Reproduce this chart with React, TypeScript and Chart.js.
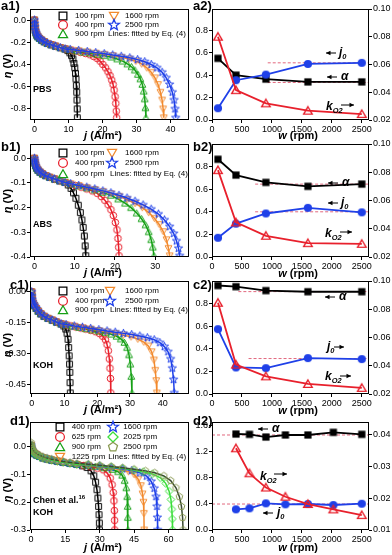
import React, { useEffect, useRef } from 'react';
import { Chart, registerables } from 'chart.js';

Chart.register(...registerables);

const FONT = 'Arial, "Liberation Sans", Helvetica, sans-serif';

// ---------------- tick values ----------------
const X_TICKS_A1 = [0, 10, 20, 30, 40];
const X_TICKS_B1 = [0, 10, 20, 30];
const X_TICKS_C1 = [0, 10, 20, 30, 40];
const X_TICKS_D1 = [0, 15, 30, 45, 60];
const Y_TICKS_A1 = [-0.8, -0.6, -0.4, -0.2, 0.0];
const Y_TICKS_B1 = [-0.4, -0.3, -0.2, -0.1, 0.0];
const Y_TICKS_C1 = [-0.45, -0.3, -0.15, 0.0];
const Y_TICKS_D1 = [-0.3, -0.2, -0.1, 0.0];
const W_TICKS = [0, 500, 1000, 1500, 2000, 2500];
const LEFT_TICKS_ABC2 = [0, 0.2, 0.4, 0.6, 0.8];
const RIGHT_TICKS_ABC2 = [0.02, 0.04, 0.06, 0.08, 0.1];
const LEFT_TICKS_D2 = [0, 0.4, 0.8, 1.2, 1.6];
const RIGHT_TICKS_D2 = [0.01, 0.02, 0.03, 0.04];

// ---------------- a1: PBS ----------------
const A1_100_J = [0, 0.05, 0.12, 0.25, 0.45, 0.7, 1.0, 1.5, 2.1, 2.9, 3.8, 4.9, 6.2, 7.6, 9.0, 9.8, 10.4, 10.9, 11.3, 11.6, 11.85, 12.05, 12.2, 12.32, 12.42, 12.5, 12.56, 12.6];
const A1_100_E = [0, -0.03, -0.06, -0.09, -0.115, -0.135, -0.15, -0.165, -0.18, -0.195, -0.21, -0.222, -0.235, -0.248, -0.26, -0.275, -0.295, -0.32, -0.35, -0.39, -0.43, -0.48, -0.53, -0.59, -0.65, -0.72, -0.8, -0.88];
const A1_400_J = [0, 0.05, 0.12, 0.25, 0.45, 0.7, 1.0, 1.5, 2.1, 2.9, 3.8, 4.9, 6.2, 7.6, 9.0, 10.5, 12, 13.5, 15, 16.3, 17.4, 18.4, 19.3, 20.1, 20.9, 21.6, 22.2, 22.7, 23.1, 23.4, 23.7, 23.9, 24.05, 24.15];
const A1_400_E = [0, -0.03, -0.06, -0.09, -0.115, -0.135, -0.15, -0.165, -0.18, -0.195, -0.21, -0.222, -0.235, -0.248, -0.26, -0.27, -0.28, -0.29, -0.3, -0.312, -0.327, -0.345, -0.37, -0.4, -0.43, -0.465, -0.5, -0.54, -0.58, -0.63, -0.69, -0.75, -0.82, -0.88];
const A1_900_J = [0, 0.05, 0.12, 0.25, 0.45, 0.7, 1.0, 1.5, 2.1, 2.9, 3.8, 4.9, 6.2, 7.6, 9.0, 10.5, 12.5, 14.5, 16.5, 18.5, 20.5, 22.5, 24.3, 25.9, 27.3, 28.5, 29.5, 30.4, 31.1, 31.7, 32.1, 32.4, 32.6, 32.75];
const A1_900_E = [0, -0.03, -0.06, -0.09, -0.115, -0.135, -0.15, -0.165, -0.18, -0.195, -0.21, -0.222, -0.235, -0.248, -0.26, -0.268, -0.278, -0.288, -0.298, -0.308, -0.32, -0.333, -0.35, -0.37, -0.395, -0.42, -0.45, -0.49, -0.53, -0.58, -0.64, -0.71, -0.79, -0.88];
const A1_1600_J = [0, 0.05, 0.12, 0.25, 0.45, 0.7, 1.0, 1.5, 2.1, 2.9, 3.8, 4.9, 6.2, 7.6, 9.0, 10.5, 13, 15.5, 18, 20.5, 23, 25.5, 27.8, 29.8, 31.5, 33, 34.3, 35.4, 36.3, 37, 37.5, 37.8, 38];
const A1_1600_E = [0, -0.03, -0.06, -0.09, -0.115, -0.135, -0.15, -0.165, -0.18, -0.195, -0.21, -0.222, -0.235, -0.248, -0.26, -0.266, -0.276, -0.286, -0.297, -0.308, -0.32, -0.335, -0.35, -0.37, -0.395, -0.43, -0.47, -0.52, -0.58, -0.65, -0.72, -0.8, -0.88];
const A1_2500_J = [0, 0.05, 0.12, 0.25, 0.45, 0.7, 1.0, 1.5, 2.1, 2.9, 3.8, 4.9, 6.2, 7.6, 9.0, 10.5, 13, 15.5, 18, 20.5, 23, 25.5, 28, 30.3, 32.4, 34.3, 36, 37.5, 38.7, 39.7, 40.5, 41, 41.3, 41.5];
const A1_2500_E = [0, -0.03, -0.06, -0.09, -0.115, -0.135, -0.15, -0.165, -0.18, -0.195, -0.21, -0.222, -0.235, -0.248, -0.26, -0.264, -0.273, -0.283, -0.293, -0.303, -0.314, -0.326, -0.34, -0.356, -0.375, -0.4, -0.43, -0.47, -0.52, -0.58, -0.65, -0.72, -0.8, -0.88];

// ---------------- b1: ABS ----------------
const B1_100_J = [0, 0.05, 0.15, 0.3, 0.55, 0.9, 1.4, 2.0, 2.8, 3.8, 5.0, 6.3, 7.6, 8.4, 9.1, 9.7, 10.3, 10.9, 11.4, 11.8, 12.1, 12.4, 12.6, 12.75];
const B1_100_E = [0, -0.01, -0.02, -0.03, -0.04, -0.048, -0.056, -0.063, -0.07, -0.077, -0.084, -0.091, -0.098, -0.108, -0.122, -0.14, -0.162, -0.19, -0.22, -0.25, -0.28, -0.315, -0.355, -0.395];
const B1_400_J = [0, 0.05, 0.15, 0.3, 0.55, 0.9, 1.4, 2.0, 2.8, 3.8, 5.0, 6.3, 7.6, 8.8, 10.2, 11.6, 13, 14.4, 15.6, 16.6, 17.5, 18.3, 19, 19.6, 20.1, 20.5, 20.75, 20.92, 21.02];
const B1_400_E = [0, -0.01, -0.02, -0.03, -0.04, -0.048, -0.056, -0.063, -0.07, -0.077, -0.084, -0.091, -0.098, -0.104, -0.11, -0.117, -0.124, -0.132, -0.142, -0.155, -0.17, -0.188, -0.208, -0.232, -0.26, -0.29, -0.325, -0.36, -0.395];
const B1_900_J = [0, 0.05, 0.15, 0.3, 0.55, 0.9, 1.4, 2.0, 2.8, 3.8, 5.0, 6.3, 7.6, 9, 11, 13, 15, 17, 19, 20.8, 22.5, 24, 25.4, 26.6, 27.6, 28.4, 29, 29.4, 29.7];
const B1_900_E = [0, -0.01, -0.02, -0.03, -0.04, -0.048, -0.056, -0.063, -0.07, -0.077, -0.084, -0.091, -0.098, -0.104, -0.112, -0.12, -0.128, -0.138, -0.15, -0.165, -0.182, -0.2, -0.222, -0.245, -0.27, -0.298, -0.33, -0.36, -0.395];
const B1_1600_J = [0, 0.05, 0.15, 0.3, 0.55, 0.9, 1.4, 2.0, 2.8, 3.8, 5.0, 6.3, 7.6, 9, 11, 13, 15, 17, 19, 21, 23, 25, 26.8, 28.4, 29.8, 31, 32, 32.8, 33.3, 33.6];
const B1_1600_E = [0, -0.01, -0.02, -0.03, -0.04, -0.048, -0.056, -0.063, -0.07, -0.077, -0.084, -0.091, -0.098, -0.103, -0.11, -0.118, -0.126, -0.134, -0.143, -0.154, -0.167, -0.183, -0.2, -0.22, -0.243, -0.268, -0.297, -0.33, -0.365, -0.395];
const B1_2500_J = [0, 0.05, 0.15, 0.3, 0.55, 0.9, 1.4, 2.0, 2.8, 3.8, 5.0, 6.3, 7.6, 9, 11, 13, 15, 17, 19, 21, 23, 25, 27, 29, 30.8, 32.3, 33.6, 34.6, 35.3, 35.8, 36.1];
const B1_2500_E = [0, -0.01, -0.02, -0.03, -0.04, -0.048, -0.056, -0.063, -0.07, -0.077, -0.084, -0.091, -0.098, -0.103, -0.11, -0.117, -0.124, -0.132, -0.14, -0.15, -0.161, -0.174, -0.189, -0.206, -0.226, -0.25, -0.277, -0.305, -0.335, -0.365, -0.395];

// ---------------- c1: KOH ----------------
const C1_100_J = [0, 0.05, 0.15, 0.3, 0.55, 0.9, 1.4, 2.0, 2.8, 3.8, 5.0, 6.3, 7.6, 9.0, 9.8, 10.4, 10.8, 11.1, 11.3, 11.45, 11.55, 11.65, 11.72, 11.78];
const C1_100_E = [0, -0.02, -0.035, -0.048, -0.058, -0.067, -0.08, -0.093, -0.106, -0.118, -0.128, -0.137, -0.146, -0.155, -0.165, -0.18, -0.2, -0.23, -0.27, -0.31, -0.35, -0.39, -0.44, -0.49];
const C1_400_J = [0, 0.05, 0.15, 0.3, 0.55, 0.9, 1.4, 2.0, 2.8, 3.8, 5.0, 6.3, 7.6, 9.0, 10.5, 12, 13.5, 15, 16.5, 18, 19.5, 20.7, 21.7, 22.5, 23, 23.4, 23.7, 23.9, 24.05, 24.15];
const C1_400_E = [0, -0.02, -0.035, -0.048, -0.058, -0.067, -0.08, -0.093, -0.106, -0.118, -0.128, -0.137, -0.146, -0.155, -0.16, -0.165, -0.17, -0.175, -0.18, -0.186, -0.193, -0.202, -0.215, -0.232, -0.255, -0.285, -0.325, -0.37, -0.42, -0.49];
const C1_900_J = [0, 0.05, 0.15, 0.3, 0.55, 0.9, 1.4, 2.0, 2.8, 3.8, 5.0, 6.3, 7.6, 9.0, 10.5, 12.5, 14.5, 16.5, 18.5, 20.5, 22.5, 24.3, 25.9, 27.2, 28.3, 29.1, 29.7, 30.1, 30.4, 30.6];
const C1_900_E = [0, -0.02, -0.035, -0.048, -0.058, -0.067, -0.08, -0.093, -0.106, -0.118, -0.128, -0.137, -0.146, -0.155, -0.16, -0.166, -0.172, -0.178, -0.184, -0.19, -0.197, -0.205, -0.215, -0.228, -0.245, -0.27, -0.305, -0.35, -0.41, -0.49];
const C1_1600_J = [0, 0.05, 0.15, 0.3, 0.55, 0.9, 1.4, 2.0, 2.8, 3.8, 5.0, 6.3, 7.6, 9.0, 10.5, 13, 15.5, 18, 20.5, 23, 25.5, 28, 30.3, 32.4, 34.2, 35.6, 36.6, 37.3, 37.7, 38, 38.2];
const C1_1600_E = [0, -0.02, -0.035, -0.048, -0.058, -0.067, -0.08, -0.093, -0.106, -0.118, -0.128, -0.137, -0.146, -0.155, -0.159, -0.166, -0.173, -0.18, -0.187, -0.194, -0.201, -0.209, -0.218, -0.229, -0.243, -0.262, -0.29, -0.33, -0.38, -0.43, -0.49];
const C1_2500_J = [0, 0.05, 0.15, 0.3, 0.55, 0.9, 1.4, 2.0, 2.8, 3.8, 5.0, 6.3, 7.6, 9.0, 10.5, 13, 15.5, 18, 20.5, 23, 25.5, 28, 30.5, 33, 35.3, 37.4, 39.1, 40.5, 41.6, 42.4, 42.9, 43.3, 43.5];
const C1_2500_E = [0, -0.02, -0.035, -0.048, -0.058, -0.067, -0.08, -0.093, -0.106, -0.118, -0.128, -0.137, -0.146, -0.155, -0.158, -0.165, -0.171, -0.177, -0.183, -0.189, -0.195, -0.201, -0.207, -0.214, -0.222, -0.232, -0.246, -0.265, -0.29, -0.325, -0.37, -0.425, -0.49];

// ---------------- d1: Chen et al. KOH ----------------
const D1_400_J = [0, 0.1, 0.3, 0.6, 1.0, 1.6, 2.5, 3.7, 5.2, 7, 9, 11.5, 14, 17, 20, 22.5, 24.5, 26.2, 27.4, 28.2, 28.8, 29.2, 29.5, 29.7, 29.85, 29.9];
const D1_400_E = [0.005, -0.003, -0.01, -0.015, -0.02, -0.025, -0.03, -0.035, -0.04, -0.044, -0.048, -0.052, -0.056, -0.06, -0.064, -0.069, -0.075, -0.087, -0.105, -0.128, -0.155, -0.185, -0.215, -0.245, -0.275, -0.3];
const D1_625_J = [0, 0.1, 0.3, 0.6, 1.0, 1.6, 2.5, 3.7, 5.2, 7, 9, 11.5, 14, 17, 20, 23, 26, 29, 31.5, 33.3, 34.6, 35.4, 35.9, 36.2, 36.4, 36.5, 36.55];
const D1_625_E = [0.005, -0.003, -0.01, -0.015, -0.02, -0.025, -0.03, -0.035, -0.04, -0.044, -0.048, -0.052, -0.056, -0.06, -0.064, -0.068, -0.072, -0.077, -0.083, -0.095, -0.113, -0.137, -0.165, -0.195, -0.23, -0.265, -0.3];
const D1_900_J = [0, 0.1, 0.3, 0.6, 1.0, 1.6, 2.5, 3.7, 5.2, 7, 9, 11.5, 14, 17, 20, 24, 28, 32, 35.5, 38, 39.8, 40.9, 41.6, 42, 42.2, 42.3, 42.35];
const D1_900_E = [0.005, -0.003, -0.01, -0.015, -0.02, -0.025, -0.03, -0.035, -0.04, -0.044, -0.048, -0.052, -0.056, -0.06, -0.064, -0.067, -0.071, -0.076, -0.082, -0.09, -0.103, -0.122, -0.148, -0.18, -0.215, -0.255, -0.3];
const D1_1225_J = [0, 0.1, 0.3, 0.6, 1.0, 1.6, 2.5, 3.7, 5.2, 7, 9, 11.5, 14, 17, 20, 25, 30, 35, 39, 42.5, 45, 46.8, 48, 48.7, 49.1, 49.3, 49.4];
const D1_1225_E = [0.005, -0.003, -0.01, -0.015, -0.02, -0.025, -0.03, -0.035, -0.04, -0.044, -0.048, -0.052, -0.056, -0.06, -0.064, -0.067, -0.072, -0.077, -0.083, -0.09, -0.1, -0.117, -0.14, -0.17, -0.2, -0.24, -0.3];
const D1_1600_J = [0, 0.1, 0.3, 0.6, 1.0, 1.6, 2.5, 3.7, 5.2, 7, 9, 11.5, 14, 17, 20, 25, 30, 35, 40, 44, 47.5, 50.5, 52.5, 53.8, 54.6, 55, 55.2, 55.3];
const D1_1600_E = [0.005, -0.003, -0.01, -0.015, -0.02, -0.025, -0.03, -0.035, -0.04, -0.044, -0.048, -0.052, -0.056, -0.06, -0.064, -0.066, -0.07, -0.075, -0.08, -0.086, -0.094, -0.106, -0.125, -0.15, -0.18, -0.215, -0.255, -0.3];
const D1_2025_J = [0, 0.1, 0.3, 0.6, 1.0, 1.6, 2.5, 3.7, 5.2, 7, 9, 11.5, 14, 17, 20, 25, 30, 35, 40, 45, 49, 53, 56.5, 58.8, 60.3, 61.1, 61.5, 61.7, 61.8];
const D1_2025_E = [0.005, -0.003, -0.01, -0.015, -0.02, -0.025, -0.03, -0.035, -0.04, -0.044, -0.048, -0.052, -0.056, -0.06, -0.064, -0.065, -0.069, -0.073, -0.078, -0.084, -0.09, -0.098, -0.112, -0.132, -0.16, -0.19, -0.225, -0.26, -0.3];
const D1_2500_J = [0, 0.1, 0.3, 0.6, 1.0, 1.6, 2.5, 3.7, 5.2, 7, 9, 11.5, 14, 17, 20, 25, 30, 35, 40, 45, 50, 54, 58, 61, 63.3, 64.8, 65.7, 66.2, 66.4];
const D1_2500_E = [0.015, 0.008, 0, -0.008, -0.014, -0.02, -0.026, -0.031, -0.036, -0.041, -0.045, -0.049, -0.053, -0.057, -0.06, -0.063, -0.067, -0.071, -0.076, -0.081, -0.087, -0.094, -0.105, -0.122, -0.148, -0.18, -0.215, -0.255, -0.3];

// ---------------- right panels: fitted parameters ----------------
const W_ABC = [100, 400, 900, 1600, 2500];
const A2_ALPHA = [0.55, 0.4, 0.365, 0.34, 0.34];
const A2_J0 = [0.105, 0.355, 0.405, 0.5, 0.51];
const A2_KO2 = [0.08, 0.0415, 0.032, 0.0267, 0.0243];
const A2_REF_LEVELS = [0.51, 0.335];
const A2_REF_FROM = 930;

const B2_ALPHA = [0.865, 0.725, 0.66, 0.625, 0.645];
const B2_J0 = [0.17, 0.295, 0.385, 0.435, 0.395];
const B2_KO2 = [0.0815, 0.0445, 0.035, 0.0298, 0.0293];
const B2_REF_LEVELS = [0.645, 0.4];
const B2_REF_FROM = 720;

const C2_ALPHA = [0.96, 0.95, 0.915, 0.905, 0.905];
const C2_J0 = [0.0659, 0.0388, 0.0383, 0.0454, 0.0447];
const C2_KO2 = [0.0846, 0.0408, 0.0325, 0.0271, 0.0243];
const C2_REF_ALPHA = 0.906;
const C2_REF_ALPHA_FROM = 440;
const C2_REF_J0 = 0.0451;
const C2_REF_J0_FROM = 610;

const D2_W = [400, 625, 900, 1225, 1600, 2025, 2500];
const D2_ALPHA = [1.463, 1.458, 1.417, 1.448, 1.448, 1.488, 1.458];
const D2_J0 = [0.315, 0.33, 0.406, 0.391, 0.396, 0.381, 0.401];
const D2_KO2 = [0.0358, 0.0279, 0.0234, 0.0205, 0.0182, 0.0165, 0.0147];
const D2_REF_LEVELS = [1.448, 0.396];

// ---------------- colours ----------------
const C_BLACK = '#000000';
const C_RED = '#e8202c';
const C_GREEN = '#16a016';
const C_ORANGE = '#f28a2e';
const C_BLUE = '#1f40e8';
const C_LGREEN = '#3ade3a';
const C_OLIVE = '#8a9a52';
const C_OLIVE_LINE = '#3a4a30';
const C_DASH = '#e2687e';

// ---------------- marker factory ----------------
const MK_CACHE: Record<string, HTMLCanvasElement> = {};
function mk(shape: string, color: string, r: number, fill: boolean, lw: number): HTMLCanvasElement {
  const key = [shape, color, r, fill, lw].join('|');
  if (MK_CACHE[key]) return MK_CACHE[key];
  const s = Math.ceil(r * 2.7 + 4);
  const c = document.createElement('canvas');
  c.width = s;
  c.height = s;
  const g = c.getContext('2d') as CanvasRenderingContext2D;
  const x = s / 2;
  const y = s / 2;
  g.lineWidth = lw;
  g.strokeStyle = color;
  g.fillStyle = color;
  g.lineJoin = 'miter';
  g.beginPath();
  const poly = (n: number, rr: number, rot: number, cy0: number) => {
    for (let i = 0; i < n; i++) {
      const a = ((rot + (i * 360) / n) * Math.PI) / 180;
      const px = x + rr * Math.cos(a);
      const py = cy0 + rr * Math.sin(a);
      if (i === 0) g.moveTo(px, py);
      else g.lineTo(px, py);
    }
    g.closePath();
  };
  if (shape === 'square') g.rect(x - r * 0.88, y - r * 0.88, r * 1.76, r * 1.76);
  else if (shape === 'circle') g.arc(x, y, r, 0, Math.PI * 2);
  else if (shape === 'tri') poly(3, r * 1.2, -90, y + r * 0.22);
  else if (shape === 'itri') poly(3, r * 1.2, 90, y - r * 0.22);
  else if (shape === 'diamond') poly(4, r * 1.15, -90, y);
  else if (shape === 'pent') poly(5, r * 1.08, -90, y);
  else if (shape === 'star') {
    for (let i = 0; i < 10; i++) {
      const rr = i % 2 === 0 ? r * 1.3 : r * 0.55;
      const a = ((-90 + i * 36) * Math.PI) / 180;
      const px = x + rr * Math.cos(a);
      const py = y + rr * Math.sin(a);
      if (i === 0) g.moveTo(px, py);
      else g.lineTo(px, py);
    }
    g.closePath();
  }
  if (fill) g.fill();
  else g.stroke();
  MK_CACHE[key] = c;
  return c;
}

// ---------------- panel geometry ----------------
const LEFT = { cx: 0, cw: 195, L: 30, R: 189 };
const RIGHT = { cx: 195, cw: 197, L: 212, R: 369 };
const ROW_A = { cy: 0, ch: 140, T: 9, B: 120 };
const ROW_B = { cy: 135, ch: 142, T: 144, B: 257 };
const ROW_C = { cy: 272, ch: 142, T: 281, B: 394 };
const ROW_D = { cy: 413, ch: 142, T: 422, B: 530 };

const S = (j: number[], e: number[], color: string, shape: string, line?: string) => ({ j, e, color, shape, line });

const PANELS: any[] = [
  {
    kind: 'pol', ...LEFT, ...ROW_A,
    x: [-1.3, 45.4], xt: X_TICKS_A1, y: [-0.9, 0.1], yt: Y_TICKS_A1, yd: 1,
    series: [
      S(A1_100_J, A1_100_E, C_BLACK, 'square'),
      S(A1_400_J, A1_400_E, C_RED, 'circle'),
      S(A1_900_J, A1_900_E, C_GREEN, 'tri'),
      S(A1_1600_J, A1_1600_E, C_ORANGE, 'itri'),
      S(A1_2500_J, A1_2500_E, C_BLUE, 'star'),
    ],
    legend: [
      { s: 'square', c: C_BLACK, x: 63, y: 15.5 }, { s: 'circle', c: C_RED, x: 63, y: 25 }, { s: 'tri', c: C_GREEN, x: 63, y: 34 },
      { s: 'itri', c: C_ORANGE, x: 114, y: 15.5 }, { s: 'star', c: C_BLUE, x: 114, y: 25 },
    ],
  },
  {
    kind: 'par', ...RIGHT, ...ROW_A,
    x: [0, 2620], xt: W_TICKS, y: [0, 0.99], yt: LEFT_TICKS_ABC2, yd: 1, y2: [0.02, 0.1], y2t: RIGHT_TICKS_ABC2, y2d: 2,
    w: W_ABC, alpha: A2_ALPHA, j0: A2_J0, j0Axis: 'y', k: A2_KO2,
    refs: [{ from: A2_REF_FROM, v: A2_REF_LEVELS[0], axis: 'y' }, { from: A2_REF_FROM, v: A2_REF_LEVELS[1], axis: 'y' }],
    arrows: [{ x1: 326, x2: 336, y: 53, dir: -1 }, { x1: 327, x2: 337, y: 77, dir: -1 }, { x1: 341, x2: 354, y: 105, dir: 1 }],
  },
  {
    kind: 'pol', ...LEFT, ...ROW_B,
    x: [-1.1, 38.4], xt: X_TICKS_B1, y: [-0.4, 0.058], yt: Y_TICKS_B1, yd: 1,
    series: [
      S(B1_100_J, B1_100_E, C_BLACK, 'square'),
      S(B1_400_J, B1_400_E, C_RED, 'circle'),
      S(B1_900_J, B1_900_E, C_GREEN, 'tri'),
      S(B1_1600_J, B1_1600_E, C_ORANGE, 'itri'),
      S(B1_2500_J, B1_2500_E, C_BLUE, 'star'),
    ],
    legend: [
      { s: 'square', c: C_BLACK, x: 63, y: 152.5 }, { s: 'circle', c: C_RED, x: 63, y: 163.3 }, { s: 'tri', c: C_GREEN, x: 63, y: 174.3 },
      { s: 'itri', c: C_ORANGE, x: 112, y: 152.5 }, { s: 'star', c: C_BLUE, x: 112, y: 163.3 },
    ],
  },
  {
    kind: 'par', ...RIGHT, ...ROW_B,
    x: [0, 2620], xt: W_TICKS, y: [0, 1.0], yt: LEFT_TICKS_ABC2, yd: 1, y2: [0.02, 0.1], y2t: RIGHT_TICKS_ABC2, y2d: 2,
    w: W_ABC, alpha: B2_ALPHA, j0: B2_J0, j0Axis: 'y', k: B2_KO2,
    refs: [{ from: B2_REF_FROM, v: B2_REF_LEVELS[0], axis: 'y' }, { from: B2_REF_FROM, v: B2_REF_LEVELS[1], axis: 'y' }],
    arrows: [{ x1: 328, x2: 338, y: 183, dir: -1 }, { x1: 328, x2: 338, y: 203, dir: -1 }, { x1: 340, x2: 352, y: 232, dir: 1 }],
  },
  {
    kind: 'pol', ...LEFT, ...ROW_C,
    x: [-0.5, 48], xt: X_TICKS_C1, y: [-0.495, 0.053], yt: Y_TICKS_C1, yd: 2,
    series: [
      S(C1_100_J, C1_100_E, C_BLACK, 'square'),
      S(C1_400_J, C1_400_E, C_RED, 'circle'),
      S(C1_900_J, C1_900_E, C_GREEN, 'tri'),
      S(C1_1600_J, C1_1600_E, C_ORANGE, 'itri'),
      S(C1_2500_J, C1_2500_E, C_BLUE, 'star'),
    ],
    legend: [
      { s: 'square', c: C_BLACK, x: 63, y: 291.3 }, { s: 'circle', c: C_RED, x: 63, y: 300.5 }, { s: 'tri', c: C_GREEN, x: 63, y: 310.3 },
      { s: 'itri', c: C_ORANGE, x: 110, y: 291.3 }, { s: 'star', c: C_BLUE, x: 110, y: 300.5 },
    ],
  },
  {
    kind: 'par', ...RIGHT, ...ROW_C,
    x: [0, 2620], xt: W_TICKS, y: [0, 1.0], yt: LEFT_TICKS_ABC2, yd: 1, y2: [0.02, 0.1], y2t: RIGHT_TICKS_ABC2, y2d: 2,
    w: W_ABC, alpha: C2_ALPHA, j0: C2_J0, j0Axis: 'y2', k: C2_KO2,
    refs: [{ from: C2_REF_ALPHA_FROM, v: C2_REF_ALPHA, axis: 'y' }, { from: C2_REF_J0_FROM, v: C2_REF_J0, axis: 'y2' }],
    arrows: [{ x1: 325, x2: 335, y: 297, dir: -1 }, { x1: 334, x2: 344, y: 347, dir: 1 }, { x1: 340, x2: 351, y: 376, dir: 1 }],
  },
  {
    kind: 'pol', ...LEFT, ...ROW_D,
    x: [-0.45, 69], xt: X_TICKS_D1, y: [-0.3, 0.089], yt: Y_TICKS_D1, yd: 1,
    series: [
      S(D1_400_J, D1_400_E, C_BLACK, 'square'),
      S(D1_625_J, D1_625_E, C_RED, 'circle'),
      S(D1_900_J, D1_900_E, C_GREEN, 'tri'),
      S(D1_1225_J, D1_1225_E, C_ORANGE, 'itri'),
      S(D1_1600_J, D1_1600_E, C_BLUE, 'star'),
      S(D1_2025_J, D1_2025_E, C_LGREEN, 'diamond'),
      S(D1_2500_J, D1_2500_E, C_OLIVE, 'pent', C_OLIVE_LINE),
    ],
    legend: [
      { s: 'square', c: C_BLACK, x: 59.5, y: 426.7 }, { s: 'circle', c: C_RED, x: 59.5, y: 437 }, { s: 'tri', c: C_GREEN, x: 59.5, y: 446.7 },
      { s: 'itri', c: C_ORANGE, x: 59.5, y: 456.7 }, { s: 'star', c: C_BLUE, x: 113.3, y: 426.7 }, { s: 'diamond', c: C_LGREEN, x: 113.3, y: 437 },
      { s: 'pent', c: C_OLIVE, x: 113.3, y: 446.7 },
    ],
  },
  {
    kind: 'par', ...RIGHT, ...ROW_D,
    x: [0, 2620], xt: W_TICKS, y: [0, 1.646], yt: LEFT_TICKS_D2, yd: 1, y2: [0.01, 0.0441], y2t: RIGHT_TICKS_D2, y2d: 2,
    w: D2_W, alpha: D2_ALPHA, j0: D2_J0, j0Axis: 'y', k: D2_KO2,
    refs: [{ from: 0, v: D2_REF_LEVELS[0], axis: 'y' }, { from: 0, v: D2_REF_LEVELS[1], axis: 'y' }],
    arrows: [{ x1: 258, x2: 268, y: 429, dir: -1 }, { x1: 274, x2: 287, y: 474, dir: 1 }, { x1: 263, x2: 273, y: 513, dir: -1 }],
  },
];

// ---------------- chart config ----------------
function axis(pos: string, range: number[], ticks: number[], dec: number, size: number, isX: boolean) {
  return {
    type: 'linear',
    position: pos,
    min: range[0],
    max: range[1],
    bounds: 'data',
    afterBuildTicks: (s: any) => {
      s.ticks = ticks.map((v) => ({ value: v }));
    },
    afterFit: (s: any) => {
      if (isX) s.height = size;
      else s.width = size;
      s.paddingLeft = 0;
      s.paddingRight = 0;
      s.paddingTop = 0;
      s.paddingBottom = 0;
    },
    ticks: {
      font: { family: FONT, size: 9 },
      color: '#000',
      padding: 1,
      maxRotation: 0,
      minRotation: 0,
      autoSkip: false,
      callback: (v: any) => Number(v).toFixed(dec),
    },
    grid: { display: true, drawOnChartArea: false, drawTicks: true, tickLength: 3, color: '#000', lineWidth: 1 },
    border: { display: false },
  };
}

function decoPlugin(p: any) {
  return {
    id: 'deco',
    afterDatasetsDraw(chart: any) {
      const ctx = chart.ctx as CanvasRenderingContext2D;
      const a = chart.chartArea;
      ctx.save();
      ctx.strokeStyle = '#000';
      ctx.lineWidth = 1;
      const l = Math.round(a.left), t = Math.round(a.top), r = Math.round(a.right), b = Math.round(a.bottom);
      ctx.strokeRect(l + 0.5, t + 0.5, r - l - 1, b - t - 1);
      (p.legend || []).forEach((it: any) => {
        const m = mk(it.s, it.c, 4.4, false, 1.25);
        ctx.drawImage(m, Math.round(it.x - p.cx - m.width / 2), Math.round(it.y - p.cy - m.height / 2));
      });
      (p.arrows || []).forEach((ar: any) => {
        const y = ar.y - p.cy;
        const x1 = ar.x1 - p.cx;
        const x2 = ar.x2 - p.cx;
        ctx.fillStyle = '#000';
        ctx.beginPath();
        ctx.moveTo(x1, y);
        ctx.lineTo(x2, y);
        ctx.stroke();
        const hx = ar.dir < 0 ? x1 : x2;
        const d = ar.dir < 0 ? 4.5 : -4.5;
        ctx.beginPath();
        ctx.moveTo(hx, y);
        ctx.lineTo(hx + d, y - 2.3);
        ctx.lineTo(hx + d, y + 2.3);
        ctx.closePath();
        ctx.fill();
      });
      ctx.restore();
    },
  };
}

function buildConfig(p: any) {
  const xH = p.ch - (p.B - p.cy);
  const yW = p.L - p.cx;
  const scales: any = {
    x: axis('bottom', p.x, p.xt, 0, xH, true),
    y: axis('left', p.y, p.yt, p.yd, yW, false),
  };
  let datasets: any[] = [];
  let padRight = 0;
  if (p.kind === 'pol') {
    padRight = p.cx + p.cw - p.R;
    datasets = p.series.map((s: any, i: number) => ({
      data: s.j.map((x: number, k: number) => ({ x, y: s.e[k] })),
      showLine: true,
      borderColor: s.line || s.color,
      borderWidth: 1.5,
      pointStyle: mk(s.shape, s.color, 3.3, false, 1),
      pointRadius: 3,
      pointHoverRadius: 3,
      order: p.series.length - i,
    }));
  } else {
    scales.y2 = axis('right', p.y2, p.y2t, p.y2d, p.cx + p.cw - p.R, false);
    datasets = [
      {
        data: p.w.map((x: number, i: number) => ({ x, y: p.k[i] })),
        showLine: true, borderColor: C_RED, borderWidth: 1.8,
        pointStyle: mk('tri', C_RED, 4.1, false, 1.4), pointRadius: 4, yAxisID: 'y2', order: 0,
      },
      {
        data: p.w.map((x: number, i: number) => ({ x, y: p.j0[i] })),
        showLine: true, borderColor: C_BLUE, borderWidth: 1.8,
        pointStyle: mk('circle', C_BLUE, 4.1, true, 1), pointRadius: 4, yAxisID: p.j0Axis, order: 1,
      },
      {
        data: p.w.map((x: number, i: number) => ({ x, y: p.alpha[i] })),
        showLine: true, borderColor: C_BLACK, borderWidth: 1.8,
        pointStyle: mk('square', C_BLACK, 4.1, true, 1), pointRadius: 4, yAxisID: 'y', order: 2,
      },
      ...p.refs.map((r: any) => ({
        data: [{ x: r.from, y: r.v }, { x: p.x[1], y: r.v }],
        showLine: true, borderColor: C_DASH, borderDash: [3, 2], borderWidth: 1,
        pointRadius: 0, yAxisID: r.axis, order: 5,
      })),
    ];
  }
  return {
    type: 'scatter',
    data: { datasets },
    options: {
      responsive: false,
      maintainAspectRatio: false,
      animation: false,
      devicePixelRatio: 1,
      events: [],
      layout: { padding: { left: 0, right: padRight, top: p.T - p.cy, bottom: 0 } },
      plugins: { legend: { display: false }, tooltip: { enabled: false } },
      elements: { line: { tension: 0 } },
      scales,
    },
    plugins: [decoPlugin(p)],
  };
}

function ChartPanel({ spec }: { spec: any }) {
  const ref = useRef<HTMLCanvasElement>(null);
  useEffect(() => {
    const chart = new Chart(ref.current as HTMLCanvasElement, buildConfig(spec) as any);
    return () => chart.destroy();
  }, [spec]);
  return (
    <canvas
      ref={ref}
      width={spec.cw}
      height={spec.ch}
      style={{ position: 'absolute', left: spec.cx, top: spec.cy, width: spec.cw, height: spec.ch }}
    />
  );
}

// ---------------- HTML text helpers ----------------
function T(props: { x: number; y: number; s?: number; b?: boolean; i?: boolean; mid?: boolean; children: any }) {
  const s = props.s || 9;
  return (
    <div
      style={{
        position: 'absolute',
        left: props.x,
        top: props.y - s * 0.5,
        fontSize: s,
        lineHeight: `${s}px`,
        fontWeight: props.b ? 700 : 400,
        fontStyle: props.i ? 'italic' : 'normal',
        whiteSpace: 'nowrap',
        color: '#000',
        transform: props.mid ? 'translateX(-50%)' : undefined,
      }}
    >
      {props.children}
    </div>
  );
}

function Eta({ x, y }: { x: number; y: number }) {
  return (
    <div
      style={{
        position: 'absolute', left: x, top: y, fontSize: 11, lineHeight: '11px', fontWeight: 700,
        whiteSpace: 'nowrap', transform: 'translate(-50%, -50%) rotate(-90deg)', color: '#000',
      }}
    >
      <i>η</i> (V)
    </div>
  );
}

const sub = (t: string) => (
  <span style={{ fontSize: '0.62em', position: 'relative', top: '0.35em', verticalAlign: 'baseline' }}>{t}</span>
);

const JTitle = ({ y }: { y: number }) => (
  <T x={103} y={y} s={11} b mid>
    <i>j</i> (A/m²)
  </T>
);
const WTitle = ({ y }: { y: number }) => (
  <T x={298} y={y} s={11} b mid>
    <i>w</i> (rpm)
  </T>
);

function Legend5({ y1, y2, y3, tx2, lx }: { y1: number; y2: number; y3: number; tx2: number; lx: number }) {
  return (
    <>
      <T x={75} y={y1} s={8}>100 rpm</T>
      <T x={75} y={y2} s={8}>400 rpm</T>
      <T x={75} y={y3} s={8}>900 rpm</T>
      <T x={tx2} y={y1} s={8}>1600 rpm</T>
      <T x={tx2} y={y2} s={8}>2500 rpm</T>
      <T x={lx} y={y3} s={8}>Lines: fitted by Eq. (4)</T>
    </>
  );
}

const J0 = ({ x, y }: { x: number; y: number }) => (
  <T x={x} y={y} s={12} b i>j{sub('0')}</T>
);
const AL = ({ x, y }: { x: number; y: number }) => (
  <T x={x} y={y} s={12} b i>α</T>
);
const KO = ({ x, y }: { x: number; y: number }) => (
  <T x={x} y={y} s={12} b i>k{sub('O2')}</T>
);

export default function App() {
  return (
    <div
      style={{
        position: 'fixed', left: 0, top: 0, width: 392, height: 555, background: '#fff',
        overflow: 'hidden', fontFamily: FONT,
      }}
    >
      {PANELS.map((p, i) => (
        <ChartPanel key={i} spec={p} />
      ))}

      {/* panel labels */}
      <T x={1} y={5} s={13} b>a1)</T>
      <T x={193} y={5} s={13} b>a2)</T>
      <T x={1} y={146} s={13} b>b1)</T>
      <T x={193} y={146} s={13} b>b2)</T>
      <T x={10} y={284} s={13} b>c1)</T>
      <T x={193} y={284} s={13} b>c2)</T>
      <T x={10} y={420} s={13} b>d1)</T>
      <T x={193} y={420} s={13} b>d2)</T>

      {/* axis titles */}
      <Eta x={7} y={66} />
      <Eta x={7} y={201} />
      <Eta x={7} y={345} />
      <Eta x={7} y={490} />
      <JTitle y={135.5} />
      <JTitle y={272} />
      <JTitle y={409} />
      <JTitle y={547.5} />
      <WTitle y={135.5} />
      <WTitle y={273} />
      <WTitle y={410.5} />
      <WTitle y={547.5} />

      {/* legends */}
      <Legend5 y1={15.5} y2={25} y3={34} tx2={125} lx={108} />
      <Legend5 y1={152.5} y2={163.3} y3={174.3} tx2={125} lx={110} />
      <Legend5 y1={291.3} y2={300.5} y3={310.3} tx2={125} lx={110} />
      <T x={71.7} y={426.7} s={8}>400 rpm</T>
      <T x={71.7} y={437} s={8}>625 rpm</T>
      <T x={71.7} y={446.7} s={8}>900 rpm</T>
      <T x={71.7} y={456.7} s={8}>1225 rpm</T>
      <T x={123.3} y={426.7} s={8}>1600 rpm</T>
      <T x={123.3} y={437} s={8}>2025 rpm</T>
      <T x={123.3} y={446.7} s={8}>2500 rpm</T>
      <T x={108.3} y={456.7} s={8}>Lines: fitted by Eq. (4)</T>

      {/* electrolyte labels */}
      <T x={33} y={89} s={9} b>PBS</T>
      <T x={33} y={224} s={9} b>ABS</T>
      <T x={33} y={365} s={9} b>KOH</T>
      <T x={33} y={500} s={9} b>
        Chen et al.<span style={{ fontSize: 6, position: 'relative', top: '-0.6em' }}>16</span>
      </T>
      <T x={33} y={512.5} s={9} b>KOH</T>

      {/* parameter annotations */}
      <J0 x={339} y={52} />
      <AL x={341} y={76} />
      <KO x={326} y={106} />
      <AL x={342} y={182} />
      <J0 x={341} y={202} />
      <KO x={325} y={233} />
      <AL x={339} y={296} />
      <J0 x={327} y={346} />
      <KO x={325} y={376} />
      <AL x={272} y={428} />
      <KO x={260} y={476} />
      <J0 x={277} y={512} />
    </div>
  );
}
